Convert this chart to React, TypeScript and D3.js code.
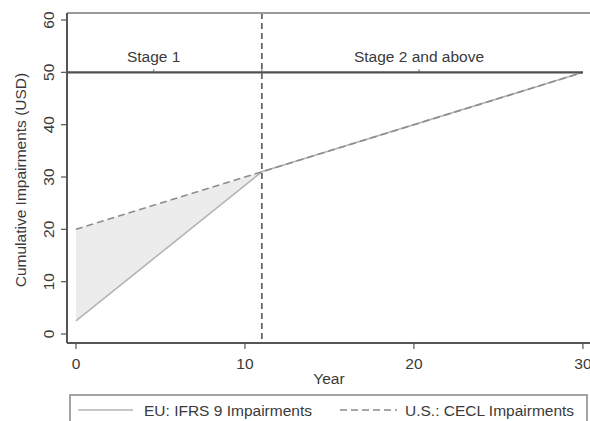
import React from "react";
import * as d3 from "d3";

const yTicks = [0, 10, 20, 30, 40, 50, 60];
const xTicks = [0, 10, 20, 30];
const ifrsYears = [0, 11, 30];
const ifrsValues = [2.5, 31, 50];
const ceclYears = [0, 11, 30];
const ceclValues = [20, 31, 50];
const stageBoundary = 11;
const stageLevel = 50;
const stageLabels = ["Stage 1", "Stage 2 and above"];
const stageLabelYears = [4.6, 20.3];
const legendLabels = ["EU: IFRS 9 Impairments", "U.S.: CECL Impairments"];

const W = 590;
const H = 421;
const left = 67;
const right = 588;
const top = 13;
const bottom = 343;

export default function App() {
  const x = d3.scaleLinear().domain([-0.53, 30.3]).range([left, right]);
  const y = d3.scaleLinear().domain([-1.72, 61.34]).range([bottom, top]);
  const line = d3
    .line<[number, number]>()
    .x((d) => x(d[0]))
    .y((d) => y(d[1]));
  const ifrs: [number, number][] = ifrsYears.map((t, i) => [t, ifrsValues[i]]);
  const cecl: [number, number][] = ceclYears.map((t, i) => [t, ceclValues[i]]);
  const shadeIdx = ifrsYears.filter((t) => t <= stageBoundary).map((_, i) => i);
  const area = d3
    .area<number>()
    .x((i) => x(ifrsYears[i]))
    .y0((i) => y(ifrsValues[i]))
    .y1((i) => y(ceclValues[i]));
  const font = "Liberation Sans, Arial, sans-serif";
  const fs = 15.5;
  const txt = "#3a3a3a";
  return (
    <svg
      width={W}
      height={H}
      style={{ position: "absolute", left: 0, top: 0, background: "#fff" }}
      fontFamily={font}
    >
      <rect x={0} y={0} width={W} height={H} fill="#fff" />
      <path d={area(shadeIdx) || ""} fill="#ececec" stroke="none" />
      <path d={line(ifrs) || ""} fill="none" stroke="#b4b4b4" strokeWidth={1.6} />
      <path
        d={line(cecl) || ""}
        fill="none"
        stroke="#8c8c8c"
        strokeWidth={1.6}
        strokeDasharray="7,4"
      />
      <line
        x1={left}
        x2={x(30)}
        y1={y(stageLevel)}
        y2={y(stageLevel)}
        stroke="#505050"
        strokeWidth={2.2}
      />
      {[stageLabelYears[0], stageBoundary, stageLabelYears[1]].map((t, i) => (
        <line
          key={i}
          x1={x(t)}
          x2={x(t)}
          y1={y(stageLevel) - 3}
          y2={y(stageLevel)}
          stroke="#606060"
          strokeWidth={1}
        />
      ))}
      {stageLabels.map((s, i) => (
        <text
          key={s}
          x={x(stageLabelYears[i])}
          y={y(stageLevel) - 10}
          textAnchor="middle"
          fontSize={fs}
          fill={txt}
        >
          {s}
        </text>
      ))}
      <line
        x1={x(stageBoundary)}
        x2={x(stageBoundary)}
        y1={top}
        y2={bottom}
        stroke="#666"
        strokeWidth={1.8}
        strokeDasharray="6,4"
      />
      <line x1={left} x2={W} y1={top} y2={top} stroke="#9a9a9a" strokeWidth={2} />
      <line x1={left} x2={left} y1={top} y2={bottom} stroke="#555" strokeWidth={2} />
      <line x1={left} x2={W} y1={bottom} y2={bottom} stroke="#555" strokeWidth={2} />
      {yTicks.map((v) => (
        <g key={v}>
          <line x1={left - 6} x2={left} y1={y(v)} y2={y(v)} stroke="#555" strokeWidth={1.2} />
          <text
            transform={`translate(${48},${y(v)}) rotate(-90)`}
            textAnchor="middle"
            dominantBaseline="central"
            fontSize={fs}
            fill={txt}
          >
            {v}
          </text>
        </g>
      ))}
      {xTicks.map((v) => (
        <g key={v}>
          <line x1={x(v)} x2={x(v)} y1={bottom} y2={bottom + 6} stroke="#555" strokeWidth={1.2} />
          <text
            x={x(v)}
            y={363}
            textAnchor="middle"
            dominantBaseline="central"
            fontSize={fs}
            fill={txt}
          >
            {v}
          </text>
        </g>
      ))}
      <text x={329} y={378} textAnchor="middle" dominantBaseline="central" fontSize={fs} fill={txt}>
        Year
      </text>
      <text
        transform={`translate(20,180) rotate(-90)`}
        textAnchor="middle"
        dominantBaseline="central"
        fontSize={fs}
        fill={txt}
      >
        Cumulative Impairments (USD)
      </text>
      <rect x={70} y={395} width={517} height={40} fill="#fff" stroke="#888" strokeWidth={1.5} />
      <line x1={78} x2={133} y1={410} y2={410} stroke="#b4b4b4" strokeWidth={1.6} />
      <text x={144} y={410} dominantBaseline="central" fontSize={fs} fill={txt}>
        {legendLabels[0]}
      </text>
      <line
        x1={340}
        x2={397}
        y1={410}
        y2={410}
        stroke="#8c8c8c"
        strokeWidth={1.6}
        strokeDasharray="7,4"
      />
      <text x={405} y={410} dominantBaseline="central" fontSize={fs} fill={txt}>
        {legendLabels[1]}
      </text>
    </svg>
  );
}
